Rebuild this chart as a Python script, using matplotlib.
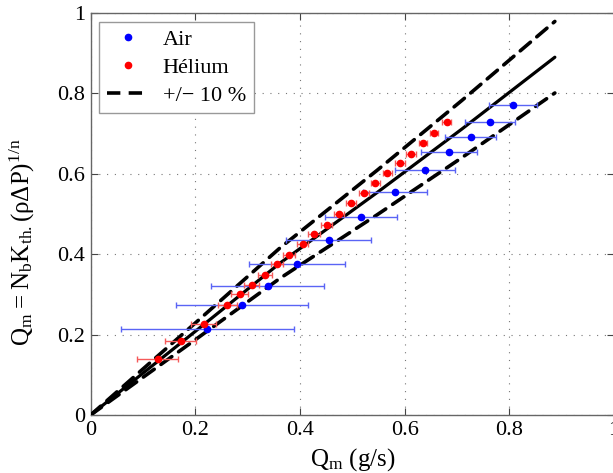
import numpy as np
import matplotlib
matplotlib.use("Agg")
import matplotlib.pyplot as plt
from matplotlib.lines import Line2D

# Helium measurements
he_x = [0.128, 0.172, 0.216, 0.261, 0.285, 0.308, 0.333, 0.356, 0.379, 0.405, 0.427,
        0.451, 0.475, 0.498, 0.522, 0.544, 0.567, 0.591, 0.612, 0.635, 0.656, 0.680]
he_y = [0.139, 0.184, 0.226, 0.274, 0.301, 0.324, 0.348, 0.375, 0.399, 0.426, 0.450,
        0.473, 0.500, 0.527, 0.551, 0.578, 0.602, 0.627, 0.650, 0.677, 0.701, 0.728]
he_xerr = [0.039, 0.029, 0.024, 0.018, 0.016, 0.014, 0.013, 0.012, 0.012, 0.011, 0.011,
           0.010, 0.010, 0.010, 0.010, 0.009, 0.009, 0.009, 0.009, 0.008, 0.008, 0.008]

# Air measurements
air_x = [0.223, 0.289, 0.338, 0.395, 0.455, 0.517, 0.581, 0.639, 0.685, 0.726, 0.763, 0.807]
air_y = [0.213, 0.274, 0.321, 0.375, 0.435, 0.4925, 0.555, 0.609, 0.654, 0.692, 0.728, 0.770]
air_xerr = [0.165, 0.126, 0.108, 0.092, 0.081, 0.069, 0.061, 0.057, 0.053, 0.049, 0.048, 0.046]

# modele
mod_x = [0, 0.2, 0.362, 0.547, 0.709, 0.887]
mod_y = [0, 0.208, 0.378, 0.553, 0.711, 0.89]
ecart = 0.10

plt.rcParams['font.family'] = ['Liberation Serif', 'DejaVu Serif']
plt.rcParams['mathtext.default'] = 'regular'

fig = plt.figure(figsize=(6.13, 4.73), dpi=100)
ax = fig.add_axes([90.6 / 613, 58 / 473, 523.4 / 613, 402 / 473])

mx = np.array(mod_x)
my = np.array(mod_y)
ax.plot(mx, my, color='k', lw=2.3, solid_capstyle='round', zorder=3)
ax.plot(mx, my * (1 + ecart), color='k', lw=2.6, dashes=(3.7, 2.3),
        dash_capstyle='round', zorder=3)
ax.plot(mx, my * (1 - ecart), color='k', lw=2.6, dashes=(3.7, 2.3),
        dash_capstyle='round', zorder=3)

ax.errorbar(air_x, air_y, xerr=air_xerr, fmt='none', ecolor='#5a64f5',
            elinewidth=1.0, capsize=2.5, capthick=1.0, zorder=4)
ax.errorbar(he_x, he_y, xerr=he_xerr, fmt='none', ecolor='#f55a5a',
            elinewidth=1.0, capsize=2.5, capthick=1.0, zorder=4)
ax.plot(air_x, air_y, 'o', color='b', ms=4.5, zorder=5)
ax.plot(he_x, he_y, 'o', color='r', ms=4.5, zorder=5)

ax.set_xlim(0, 1)
ax.set_ylim(0, 1)
ax.set_xticks(np.arange(0, 1.01, 0.2))
ax.set_yticks(np.arange(0, 1.01, 0.2))
ax.set_xticklabels(['0', '0.2', '0.4', '0.6', '0.8', '1'])
ax.set_yticklabels(['0', '0.2', '0.4', '0.6', '0.8', '1'])
ax.tick_params(direction='in', top=True, right=True, length=5, width=0.8,
               labelsize=16, color='#444444', pad=4)
ax.grid(True, color='#777777', lw=0.8, linestyle=(0, (1, 6)))
for s in ax.spines.values():
    s.set_color('#666666')
    s.set_linewidth(1.0)

ax.set_xlabel('$Q_m$ (g/s)', fontsize=18, labelpad=5)
ax.set_ylabel(r'$Q_m = N_b K_{th.} (\rho\Delta P)^{1/n}$', fontsize=18)
ax.yaxis.set_label_coords(-0.103, 0.43)

handles = [
    Line2D([], [], color='b', marker='o', ls='none', ms=4.5),
    Line2D([], [], color='r', marker='o', ls='none', ms=4.5),
    Line2D([], [], color='k', lw=2.6, dashes=(3.7, 2.3)),
]
leg = ax.legend(handles, ['Air', 'Hélium', '+/− 10 %'], loc='upper left',
                fontsize=16, fancybox=False, framealpha=1, edgecolor='#999999',
                borderaxespad=0.4, labelspacing=0.32, handlelength=1.9,
                handletextpad=0.6, borderpad=0.35)
leg.get_frame().set_linewidth(1.0)

fig.savefig('out.png', dpi=100)
